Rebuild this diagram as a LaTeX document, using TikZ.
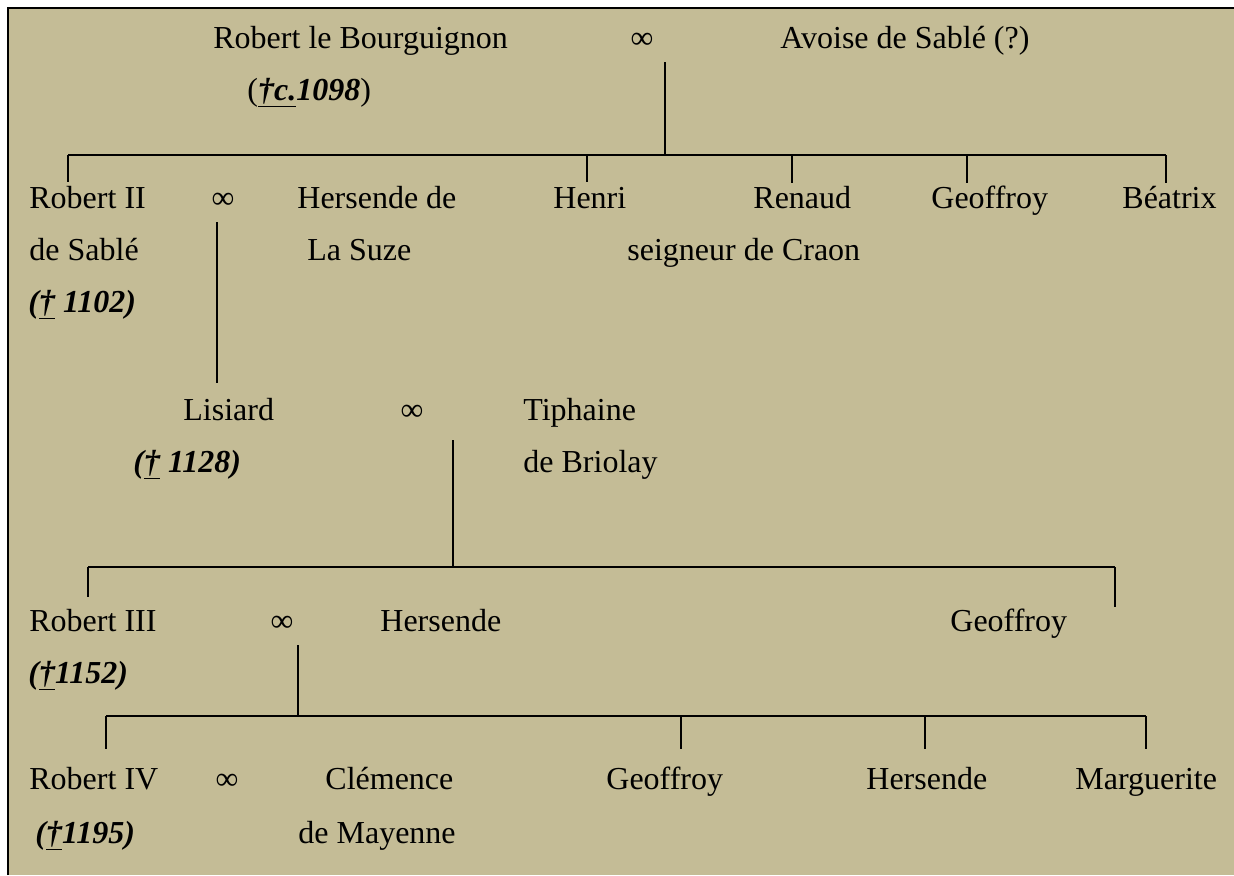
\documentclass[tikz,border=0pt]{standalone}
\usepackage{fontspec}
\setmainfont{Liberation Serif}
\usepackage{tikz}
\usetikzlibrary{positioning}

\definecolor{parchment}{HTML}{C4BC96}

\tikzset{
	person/.style = {anchor=base west, inner sep=0pt,
		font=\fontsize{16}{19}\selectfont},
	wed/.style = {anchor=base, inner sep=0pt,
		font=\fontsize{16}{19}\selectfont},
	kin/.style = {line width=0.7pt}
}

\begin{document}
\begin{tikzpicture}[x=0.5pt, y=-0.5pt]
	\useasboundingbox (0,0) rectangle (1234,875);
	\fill [parchment] (8,8) rectangle (1234,875);
	\draw [line width=1pt] (8,875) -- (8,8) -- (1234,8);

	% generation 0
	\node [person] (rb) at (213,48) {Robert le Bourguignon};
	\node [wed] (w0) at (642,48) {∞};
	\node [person] (avoise) at (780,48) {Avoise de Sablé (?)};
	\node [person] (rbd) at (247,100)
		{(\textbf{\textit{\underline{†c.}1098}})};

	% generation 1
	\node [person] (rob2) at (29,208) {Robert II};
	\node [person] (rob2a) at (29,260) {de Sablé};
	\node [person] (rob2d) at (28,312) {\textbf{\textit{(\underline{†} 1102)}}};
	\node [wed] (w1) at (223,208) {∞};
	\node [person] (hers1) at (297,208) {Hersende de};
	\node [person] (hers1a) at (307,260) {La Suze};
	\node [person] (henri) at (553,208) {Henri};
	\node [person] (renaud) at (753,208) {Renaud};
	\node [person] (renauda) at (627,260) {seigneur de Craon};
	\node [person] (geof1) at (931,208) {Geoffroy};
	\node [person] (beat) at (1122,208) {Béatrix};

	% generation 2
	\node [person] (lis) at (183,420) {Lisiard};
	\node [person] (lisd) at (133,472) {\textbf{\textit{(\underline{†} 1128)}}};
	\node [wed] (w2) at (412,420) {∞};
	\node [person] (tiph) at (523,420) {Tiphaine};
	\node [person] (tipha) at (523,472) {de Briolay};

	% generation 3
	\node [person] (rob3) at (29,631) {Robert III};
	\node [person] (rob3d) at (28,683) {\textbf{\textit{(\underline{†}1152)}}};
	\node [wed] (w3) at (282,631) {∞};
	\node [person] (hers3) at (380,631) {Hersende};
	\node [person] (geof3) at (950,631) {Geoffroy};

	% generation 4
	\node [person] (rob4) at (29,789) {Robert IV};
	\node [person] (rob4d) at (35,843) {\textbf{\textit{(\underline{†}1195)}}};
	\node [wed] (w4) at (227,789) {∞};
	\node [person] (clem) at (325,789) {Clémence};
	\node [person] (clema) at (298,843) {de Mayenne};
	\node [person] (geof4) at (606,789) {Geoffroy};
	\node [person] (hers4) at (866,789) {Hersende};
	\node [person] (marg) at (1075,789) {Marguerite};

	% line ends
	\coordinate (c0) at (665,62);
	\coordinate (b0) at (665,155);
	\coordinate (b0l) at (68,155);
	\coordinate (b0r) at (1166,155);
	\coordinate (c1) at (217,222);
	\coordinate (e1) at (217,383);
	\coordinate (c2) at (453,440);
	\coordinate (b2) at (453,567);
	\coordinate (b2l) at (88,567);
	\coordinate (b2r) at (1115,567);
	\coordinate (c3) at (298,645);
	\coordinate (b3) at (298,716);
	\coordinate (b3l) at (106,716);
	\coordinate (b3r) at (1146,716);

	% descent
	\draw [kin] (c0) -- (b0);
	\draw [kin] (b0l) -- (b0r);
	\foreach \x/\y in {68/182, 587/182, 792/183, 967/183, 1166/183}
		\draw [kin] (\x,155) -- (\x,\y);
	\draw [kin] (c1) -- (e1);
	\draw [kin] (c2) -- (b2);
	\draw [kin] (b2l) -- (b2r);
	\draw [kin] (b2l) -- ++(0,30);
	\draw [kin] (b2r) -- ++(0,40);
	\draw [kin] (c3) -- (b3);
	\draw [kin] (b3l) -- (b3r);
	\foreach \x in {106, 681, 925, 1146}
		\draw [kin] (\x,716) -- (\x,749);
\end{tikzpicture}
\end{document}
